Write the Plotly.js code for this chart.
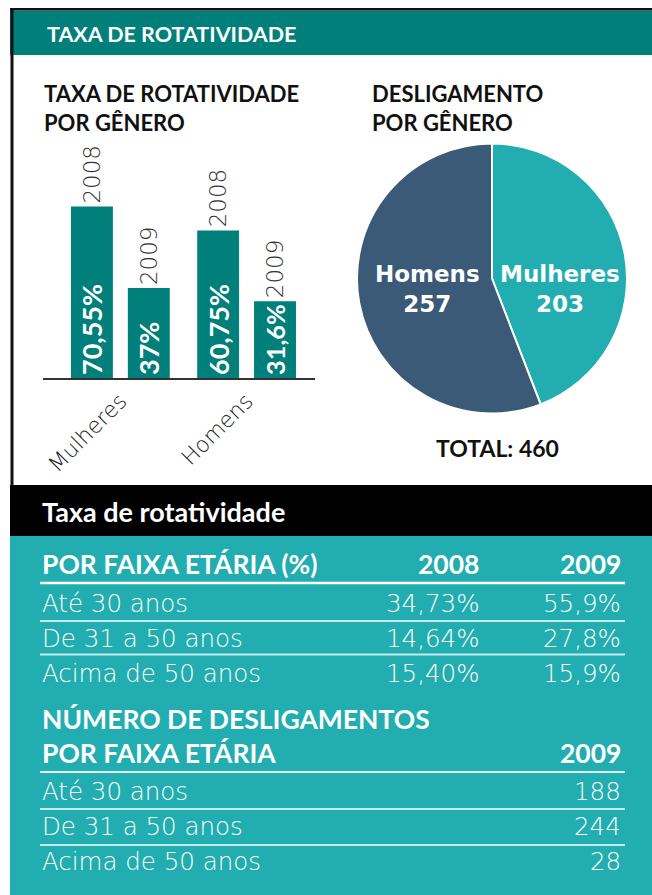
<!DOCTYPE html>
<html>
<head>
<meta charset="utf-8">
<script src="https://cdn.plot.ly/plotly-3.0.1.min.js"></script>
<style>html,body{margin:0;padding:0;background:#fff;}#chart{width:652px;height:895px;}</style>
</head>
<body>
<div id="chart"></div>
<script>
// ---- data ----
const genders = ['Mulheres', 'Homens'];
const years = ['2008', '2009'];
const rate2008 = [70.55, 60.75];
const rate2009 = [37, 31.6];
const pieLabels = ['Mulheres', 'Homens'];
const pieValues = [203, 257];
const ageGroups = ['Até 30 anos', 'De 31 a 50 anos', 'Acima de 50 anos'];
const turnover2008 = [34.73, 14.64, 15.40];
const turnover2009 = [55.9, 27.8, 15.9];
const dismissals2009 = [188, 244, 28];

// ---- styles ----
const W = 652, H = 895;
const P = x => x / W;
const Q = y => 1 - y / H;
const BOLD = 'Lato, "DejaVu Sans", sans-serif';
const LIGHT = '"DejaVu Sans", sans-serif';
const DARKTEAL = '#017f7a';
const TEAL = '#22adb0';
const NAVY = '#3a5a78';

const fmtBar = v => String(v).replace('.', ',') + '%';
const fmtFix = (v, d) => v.toFixed(d).replace('.', ',') + '%';

const traces = [
  {type: 'bar', x: genders, y: rate2008, name: years[0], xaxis: 'x', yaxis: 'y',
   marker: {color: DARKTEAL}, text: rate2008.map(fmtBar), textposition: 'inside',
   insidetextanchor: 'start', textangle: -90, constraintext: 'inside',
   textfont: {family: BOLD, size: 27, weight: 700, color: '#fff'}, hoverinfo: 'skip'},
  {type: 'bar', x: genders, y: rate2009, name: years[1], xaxis: 'x', yaxis: 'y',
   marker: {color: DARKTEAL}, text: rate2009.map(fmtBar), textposition: 'inside',
   insidetextanchor: 'start', textangle: -90, constraintext: 'inside',
   textfont: {family: BOLD, size: 27, weight: 700, color: '#fff'}, hoverinfo: 'skip'},
  {type: 'bar', x: genders, y: rate2008, xaxis: 'x2', yaxis: 'y2',
   marker: {color: 'rgba(0,0,0,0)'}, text: genders.map(() => years[0]), textposition: 'outside',
   textangle: -90, constraintext: 'none', cliponaxis: false,
   textfont: {family: LIGHT, size: 23, weight: 200, color: '#333'}, hoverinfo: 'skip'},
  {type: 'bar', x: genders, y: rate2009, xaxis: 'x2', yaxis: 'y2',
   marker: {color: 'rgba(0,0,0,0)'}, text: genders.map(() => years[1]), textposition: 'outside',
   textangle: -90, constraintext: 'none', cliponaxis: false,
   textfont: {family: LIGHT, size: 23, weight: 200, color: '#333'}, hoverinfo: 'skip'},
  {type: 'pie', labels: pieLabels, values: pieValues, sort: false, direction: 'clockwise',
   rotation: 0, marker: {colors: [TEAL, NAVY], line: {color: '#fff', width: 2}},
   textinfo: 'none',
   domain: {x: [P(357), P(627)], y: [Q(413.5), Q(143.5)]}, hoverinfo: 'skip'}
];

const shapes = [];
function rect(x0, y0, x1, y1, color) {
  shapes.push({type: 'rect', xref: 'paper', yref: 'paper', x0: P(x0), x1: P(x1), y0: Q(y1), y1: Q(y0),
    fillcolor: color, line: {width: 0}, layer: 'below'});
}
function hline(x0, x1, y, color, w) {
  shapes.push({type: 'line', xref: 'paper', yref: 'paper', x0: P(x0), x1: P(x1), y0: Q(y), y1: Q(y),
    line: {color: color, width: w}, layer: 'above'});
}
function vline(x, y0, y1, color, w) {
  shapes.push({type: 'line', xref: 'paper', yref: 'paper', x0: P(x), x1: P(x), y0: Q(y0), y1: Q(y1),
    line: {color: color, width: w}, layer: 'above'});
}
rect(10, 10.5, 652, 55, DARKTEAL);
rect(10, 485, 652, 536, '#000');
rect(10, 536, 652, 895, TEAL);
hline(10, 652, 9.3, '#111', 2.5);
vline(12, 8, 486, '#111', 3);

const annotations = [];
function ann(text, x, y, anchor, font, align) {
  annotations.push({text: text, xref: 'paper', yref: 'paper', x: P(x), y: Q(y), xanchor: anchor,
    yanchor: 'middle', showarrow: false, font: font, align: align || anchor});
}
const fHeader = {family: BOLD, size: 21.5, weight: 700, color: '#fff'};
const fSub = {family: BOLD, size: 22, weight: 700, color: '#111'};
const fBand = {family: BOLD, size: 27, weight: 700, color: '#fff'};
const fTh = {family: BOLD, size: 26.5, weight: 700, color: '#fff'};
const fRow = {family: LIGHT, size: 24.5, weight: 200, color: '#fff'};
const fPie = {family: '"DejaVu Sans", sans-serif', size: 23, weight: 700, color: '#fff'};

ann('TAXA DE ROTATIVIDADE', 45, 33.5, 'left', fHeader);
ann('TAXA DE ROTATIVIDADE<br>POR GÊNERO', 42, 108, 'left', fSub);
ann('DESLIGAMENTO<br>POR GÊNERO', 370, 108, 'left', fSub);

// pie slice labels (label + value), placed inside each slice
const pieLabelX = [560, 427];
pieLabels.forEach((l, i) => {
  ann(l + '<br>' + pieValues[i], pieLabelX[i], 288.5, 'center', fPie, 'center');
});
ann('TOTAL: ' + pieValues.reduce((a, b) => a + b, 0), 497, 448, 'center',
    {family: BOLD, size: 23, weight: 700, color: '#111'});
ann('Taxa de rotatividade', 40, 511, 'left', fBand);

// table 1
ann('POR FAIXA ETÁRIA (%)', 40, 564, 'left', fTh);
ann(years[0], 481, 564, 'right', fTh);
ann(years[1], 623, 564, 'right', fTh);
hline(40, 625, 583, '#fff', 2.5);
ageGroups.forEach((g, i) => {
  const yc = 603 + i * 35;
  ann(g, 40, yc, 'left', fRow);
  ann(fmtFix(turnover2008[i], 2), 481, yc, 'right', fRow);
  ann(fmtFix(turnover2009[i], 1), 623, yc, 'right', fRow);
  if (i < ageGroups.length - 1) hline(40, 625, 621 + i * 33.5, 'rgba(255,255,255,0.75)', 1.8);
});

// table 2
ann('NÚMERO DE DESLIGAMENTOS<br>POR FAIXA ETÁRIA', 40, 736, 'left', fTh);
ann(years[1], 623, 753, 'right', fTh);
hline(40, 625, 772, 'rgba(255,255,255,0.85)', 2);
ageGroups.forEach((g, i) => {
  const yc = 791 + i * 35;
  ann(g, 40, yc, 'left', fRow);
  ann(String(dismissals2009[i]), 623, yc, 'right', fRow);
  if (i < ageGroups.length - 1) hline(40, 625, 809 + i * 36, 'rgba(255,255,255,0.75)', 1.8);
});

const xr = [-0.613, 1.542];
const layout = {
  width: W, height: H, margin: {l: 0, r: 0, t: 0, b: 0},
  paper_bgcolor: '#fff', plot_bgcolor: 'rgba(0,0,0,0)', showlegend: false,
  barmode: 'group', bargap: 0.099, bargroupgap: 0.263,
  xaxis: {domain: [P(43), P(315)], type: 'category', categoryarray: genders, categoryorder: 'array',
    range: xr, showline: true, linecolor: '#333', linewidth: 1.5, ticks: '', showgrid: false,
    zeroline: false, tickangle: -45, tickfont: {family: LIGHT, size: 22, weight: 200, color: '#222'},
    fixedrange: true, anchor: 'y'},
  yaxis: {domain: [Q(378), Q(135)], range: [0, 100], visible: false, fixedrange: true, anchor: 'x'},
  xaxis2: {overlaying: 'x', type: 'category', categoryarray: genders, categoryorder: 'array',
    range: xr, visible: false, anchor: 'y2', fixedrange: true},
  yaxis2: {overlaying: 'y', range: [0, 100], visible: false, anchor: 'x2', fixedrange: true},
  shapes: shapes, annotations: annotations
};

Plotly.newPlot('chart', traces, layout, {staticPlot: true, displayModeBar: false});
</script>
</body>
</html>
